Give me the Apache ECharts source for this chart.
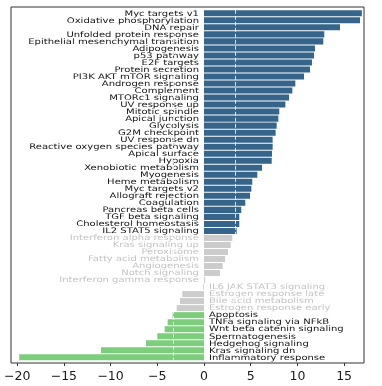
<!DOCTYPE html>
<html>
<head>
<meta charset="utf-8">
<script src="https://cdn.jsdelivr.net/npm/echarts@6/dist/echarts.min.js"></script>
<style>html,body{margin:0;padding:0;background:#fff}#c{width:382px;height:386px}</style>
</head>
<body>
<div id="c"></div>
<script>
const pathways = [
  "Myc targets v1","Oxidative phosphorylation","DNA repair","Unfolded protein response",
  "Epithelial mesenchymal transition","Adipogenesis","p53 pathway","E2F targets",
  "Protein secretion","PI3K AKT mTOR signaling","Androgen response","Complement",
  "MTORc1 signaling","UV response up","Mitotic spindle","Apical junction","Glycolysis",
  "G2M checkpoint","UV response dn","Reactive oxygen species pathway","Apical surface",
  "Hypoxia","Xenobiotic metabolism","Myogenesis","Heme metabolism","Myc targets v2",
  "Allograft rejection","Coagulation","Pancreas beta cells","TGF beta signaling",
  "Cholesterol homeostasis","IL2 STAT5 signaling","Interferon alpha response",
  "Kras signaling up","Peroxisome","Fatty acid metabolism","Angiogenesis","Notch signaling",
  "Interferon gamma response","IL6 JAK STAT3 signaling","Estrogen response late",
  "Bile acid metabolism","Estrogen response early","Apoptosis","TNFa signaling via NFkB",
  "Wnt beta catenin signaling","Spermatogenesis","Hedgehog signaling","Kras signaling dn",
  "Inflammatory response"
];
const scores = [
  16.9, 16.7, 14.56, 12.88, 12.77, 11.88, 11.78, 11.56, 11.35, 10.71, 9.78, 9.46,
  9.1, 8.71, 8.06, 7.96, 7.78, 7.67, 7.35, 7.35, 7.28, 7.25, 6.21, 5.71, 5.17, 5.07,
  4.93, 4.42, 3.99, 3.78, 3.78, 3.5, 3.03, 2.86, 2.57, 2.25, 2.0, 1.71, 0.12, -0.08,
  -2.32, -2.57, -2.92, -3.36, -3.89, -4.21, -5.0, -6.21, -11.03, -19.78
];
const threshold = 3.3;
const xTicks = [-20, -15, -10, -5, 0, 5, 10, 15];

const BLUE = '#36648B', GREEN = '#7CCD7C', GREY = '#CCCCCC';
const isSig = v => Math.abs(v) > threshold;
const barData = scores.map(v => ({
  value: v,
  itemStyle: { color: !isSig(v) ? GREY : (v > 0 ? BLUE : GREEN) }
}));
const labelData = scores.map((v, i) => [v, i]);

const chart = echarts.init(document.getElementById('c'), null, { renderer: 'canvas' });
chart.setOption({
  animation: false,
  backgroundColor: '#fff',
  grid: { left: 11, right: 18, top: 9.8, bottom: 25.2, containLabel: false },
  xAxis: {
    type: 'value', min: -20.66, max: 17.13,
    splitLine: { show: false },
    axisLine: { show: false },
    axisTick: { show: true, customValues: xTicks, length: 3, lineStyle: { color: '#333' } },
    offset: 2.2,
    axisLabel: {
      customValues: xTicks,
      margin: 7,
      fontFamily: 'DejaVu Sans', fontSize: 12.5, color: '#1a1a1a',
      formatter: v => (v < 0 ? '\u2212' + Math.abs(v) : String(v))
    }
  },
  yAxis: {
    type: 'category', data: pathways, inverse: true,
    axisLine: { show: false }, axisTick: { show: false }, axisLabel: { show: false },
    splitLine: { show: false }
  },
  graphic: [{
    type: 'rect', silent: true, z: 100,
    shape: { x: 11, y: 7, width: 353, height: 356 },
    style: { fill: 'none', stroke: '#333', lineWidth: 1 }
  }],
  series: [{
    type: 'bar',
    data: barData,
    barCategoryGap: '14%',
    markLine: {
      silent: true, symbol: 'none', label: { show: false },
      lineStyle: { color: '#ffffff', type: 'dashed', width: 1, opacity: 0.8 },
      z: 10,
      data: [{ xAxis: threshold }, { xAxis: -threshold }]
    }
  }, {
    type: 'custom',
    data: labelData,
    encode: { x: 0, y: 1 },
    clip: false,
    silent: true,
    z: 5,
    renderItem: function (params, api) {
      const v = api.value(0);
      const idx = api.value(1);
      const p = api.coord([0, idx]);
      const pos = v >= 0;
      return {
        type: 'text',
        x: p[0] + (pos ? -5 : 5),
        y: p[1] + 0.3,
        scaleX: 1.32,
        style: {
          text: pathways[idx],
          fontFamily: 'DejaVu Sans',
          fontSize: 7.6,
          fill: isSig(v) ? '#141414' : '#c4c4c4',
          align: pos ? 'right' : 'left',
          verticalAlign: 'middle'
        }
      };
    }
  }]
});
</script>
</body>
</html>
